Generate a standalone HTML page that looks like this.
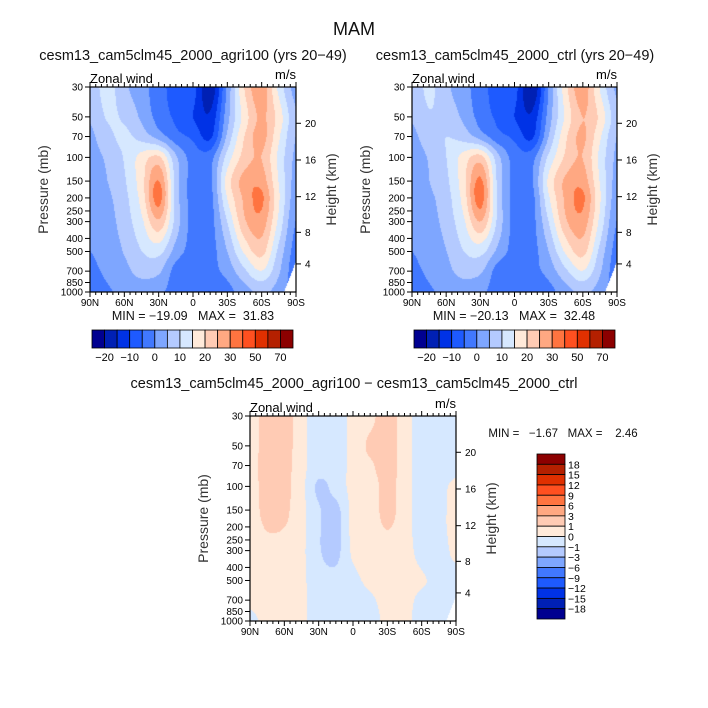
<!DOCTYPE html>
<html><head><meta charset="utf-8">
<style>
html,body{margin:0;padding:0;background:#fff;}
#wrap{position:relative;width:708px;height:708px;overflow:hidden;font-family:"Liberation Sans",sans-serif;}
canvas{position:absolute;}
svg{position:absolute;left:0;top:0;}
</style></head><body>
<div id="wrap">
<canvas id="c1" width="206" height="205" style="left:90px;top:87px"></canvas>
<canvas id="c2" width="205" height="205" style="left:412px;top:87px"></canvas>
<canvas id="c3" width="206" height="205" style="left:250px;top:416px"></canvas>
<svg id="ov" width="708" height="708"></svg>
</div>
<script>
// ---- data ----
const lats = [90,75,60,45,30,15,0,-15,-30,-45,-60,-75,-90];
const pressures = [30,50,70,100,150,200,300,500,700,1000];
const agriU = [
 [7,12,6,2,-3,-7,-8,-19,1,20,28,14,3],
 [5.5,10.5,9,4,-2,-6,-10,-14,3,17,26,18,6],
 [4,8.5,11,8,3,-3,-6,-11,6,20,27,16,5],
 [3,6,10.5,17,21,6,-2,-2,12,22,25,14,4],
 [2,5,9.5,18,30,8,-2,-1,17,27,28,15,3],
 [1.5,4,8.5,17,32,8,-2,-2,15,26,31,16,2],
 [0.5,3,7.5,14,24,8,-2,-2,10,24,28,14,0],
 [0,2,5.5,10,12,3,-2,-2,5,16,22,9,-2],
 [-1,1,3.5,7,6,-2,-4,-2,2,9,15,6,-3],
 [-2.5,-0.5,1,2,1,-2,-3,-5,-2,3,6,3,-3]
];
const ctrlU = [
 [7,11,6,2,-3,-7,-8,-20,0,18,28,15,4],
 [5.5,9.5,8,4,-2,-6,-10,-14,2,16,25,19,7],
 [4,7.5,10,8,3,-3,-6,-11,5,19,26,16,5],
 [3,5.5,10,17,22,7,-2,-2,11,21,25,14,4],
 [2,5,9,18,31,9,-2,-1,16,26,28,15,3],
 [1.5,4,8,17,32.5,9,-2,-2,14,26,31,16,2],
 [0.5,3,7,14,25,9,-2,-2,10,24,28,14,0],
 [0,2,5,10,12,4,-2,-2,5,16,22,9,-2],
 [-1,1,3.5,7,6,-2,-4,-2,2,9,15,6,-3],
 [-2.5,-0.5,1,2,1,-2,-3,-5,-2,3,6,3,-3]
];
const diffU = [
 [0.5,1.5,1.5,0.3,-0.5,-0.5,0.3,0.7,1.5,0.5,-0.5,-0.5,-0.5],
 [0.5,1.5,1.5,0.3,-0.5,-0.5,0.3,1.2,1.5,0.5,-0.5,-0.5,-0.5],
 [0.6,1.6,1.4,0.3,-0.5,-0.5,0.3,0.8,1.5,0.5,-0.5,-0.5,-0.3],
 [0.5,1.5,1.3,0.3,-1.2,-0.6,0.3,0.5,1.3,0.5,-0.5,-0.3,0.2],
 [0.5,1.4,1.2,0.3,-0.9,-1.3,0.3,0.5,1.3,0.5,-0.5,-0.3,0.3],
 [0.5,1.1,1.0,0.3,-0.9,-1.4,0.3,0.5,1.05,0.5,-0.5,-0.3,0.3],
 [0.5,0.6,0.5,0.2,-0.9,-1.3,0.2,0.5,0.6,0.4,-0.3,-0.4,0.2],
 [0.5,0.5,0.5,0.2,-0.6,-0.7,-0.3,0.3,0.5,0.4,0.1,-0.2,-0.3],
 [0.3,0.5,0.5,0.2,-0.5,-0.5,-0.5,-0.2,0.4,0.3,-0.2,-0.3,-0.3],
 [-0.3,0.4,0.4,0.2,-0.5,-0.3,-0.5,-0.5,0.3,0.3,-0.4,-0.4,-0.4]
];
const levelsTop = [-20,-15,-10,-5,0,5,10,15,20,25,30,40,50,60,70];
const levelsDiff = [-18,-15,-12,-9,-6,-3,-1,0,1,3,6,9,12,15,18];
const colorsAsc = ["#000090","#0020b4","#0032e6","#1e5aff","#4178ff","#7ea6ff","#b4caff","#d6e8ff","#ffeada","#ffcbb4","#ffa882","#ff7440","#ff5020","#e03000","#b42000","#8c0000"];
const topBarLabels = ["-20","-10","0","10","20","30","50","70"];
const diffBarLabels = ["18","15","12","9","6","3","1","0","-1","-3","-6","-9","-12","-15","-18"];
const pTicks = [30,50,70,100,150,200,250,300,400,500,700,850,1000];
const latTickLabels = ["90N","60N","30N","0","30S","60S","90S"];
const kmTicks = [4,8,12,16,20];
const kmFrac = [0.863,0.709,0.535,0.356,0.177];

// ---- helpers ----
const NS="http://www.w3.org/2000/svg";
const ov=document.getElementById('ov');
function pv(p){return Math.log(p/30)/Math.log(1000/30);}
function hexRGB(h){return [parseInt(h.substr(1,2),16),parseInt(h.substr(3,2),16),parseInt(h.substr(5,2),16)];}
function cr(p0,p1,p2,p3,t){return 0.5*((2*p1)+(-p0+p2)*t+(2*p0-5*p1+4*p2-p3)*t*t+(-p0+3*p1-3*p2+p3)*t*t*t);}
function sample(g,u,v){
  const fx=u*(lats.length-1);
  let j=0; const pvs=pressures.map(pv);
  while(j<pvs.length-2 && v>pvs[j+1]) j++;
  const fy=j+Math.min(1,Math.max(0,(v-pvs[j])/(pvs[j+1]-pvs[j])));
  const ix=Math.floor(fx), iy=Math.floor(fy), tx=fx-ix, ty=fy-iy;
  const R=(r)=>g[Math.max(0,Math.min(g.length-1,r))];
  const C=(row,c)=>row[Math.max(0,Math.min(row.length-1,c))];
  const rows=[];
  for(let k=-1;k<=2;k++){const row=R(iy+k);rows.push(cr(C(row,ix-1),C(row,ix),C(row,ix+1),C(row,ix+2),tx));}
  return cr(rows[0],rows[1],rows[2],rows[3],ty);
}
function paint(id,g,levels,missing){
  const c=document.getElementById(id),ctx=c.getContext('2d');
  const W=c.width,H=c.height,img=ctx.createImageData(W,H);
  const cols=colorsAsc.map(hexRGB);
  for(let y=0;y<H;y++)for(let x=0;x<W;x++){
    const val=sample(g,x/(W-1),y/(H-1));
    let k=0;while(k<levels.length&&val>=levels[k])k++;
    let col=cols[k];
    if(missing&&missing(x/(W-1),y/(H-1)))col=[255,255,255];
    const o=(y*W+x)*4;img.data[o]=col[0];img.data[o+1]=col[1];img.data[o+2]=col[2];img.data[o+3]=255;
  }
  ctx.putImageData(img,0,0);
}
const missTop=(u,v)=>v>0.86 && u>1-0.055*(v-0.86)/0.14;
const missDiff=(u,v)=>v>0.89 && u>1-0.045*(v-0.89)/0.11;
paint('c1',agriU,levelsTop,missTop);
paint('c2',ctrlU,levelsTop,missTop);
paint('c3',diffU,levelsDiff,missDiff);

function el(tag,attrs,parent){const e=document.createElementNS(NS,tag);for(const k in attrs)e.setAttribute(k,attrs[k]);(parent||ov).appendChild(e);return e;}
function txt(s,x,y,size,anchor,parent,extra){const t=el('text',Object.assign({x:x,y:y,'font-size':size,'text-anchor':anchor||'middle','font-family':'Liberation Sans, sans-serif',fill:'#000'},extra||{}),parent);t.textContent=s;return t;}

function panel(x0,y0,w,h,name){
  const g=el('g',{});
  
  
  const box=el('rect',{x:x0,y:y0,width:w,height:h,fill:'none',stroke:'#000','stroke-width':1.2},g);
  
  
  for(let lat=90;lat>=-90;lat-=5){
    const x=x0+(90-lat)/180*w, major=lat%30===0;
    const L=major?5:3;
    el('line',{x1:x,y1:y0+h,x2:x,y2:y0+h+L,stroke:'#000','stroke-width':1},g);
    el('line',{x1:x,y1:y0,x2:x,y2:y0-L,stroke:'#000','stroke-width':1},g);
  }
  latTickLabels.forEach((s,i)=>{
    const t=txt(s,x0+i*w/6,y0+h+14,10,'middle',g);
    
    
  });
  pTicks.forEach(p=>{
    const y=y0+pv(p)*h;
    el('line',{x1:x0,y1:y,x2:x0-5,y2:y,stroke:'#000','stroke-width':1},g);
    const t=txt(String(p),x0-7,y+3.5,10,'end',g);
    
    
  });
  kmTicks.forEach((k,i)=>{
    const y=y0+kmFrac[i]*h;
    el('line',{x1:x0+w,y1:y,x2:x0+w+5,y2:y,stroke:'#000','stroke-width':1},g);
    const t=txt(String(k),x0+w+9,y+3.5,10,'start',g);
    
    
  });
  const yl=txt('Pressure (mb)',0,0,14,'middle',g,{transform:`translate(${x0-42},${y0+h/2}) rotate(-90)`,fill:'#333'});
  
  
  const hl=txt('Height (km)',0,0,14,'middle',g,{transform:`translate(${x0+w+40},${y0+h/2}) rotate(-90)`,fill:'#333'});
  
  
  const zl=txt('Zonal wind',x0,y0-4,13,'start',g);
  
  
  const ul=txt('m/s',x0+w,y0-8,13,'end',g);
  
  
}
panel(90,87,206,205,'agri100');
panel(412,87,205,205,'ctrl');
panel(250,416,206,205,'difference');

function hbar(x0,y0,w,h,name){
  const g=el('g',{});
  
  
  const bw=w/colorsAsc.length;
  colorsAsc.forEach((c,i)=>{
    const r=el('rect',{x:x0+i*bw,y:y0,width:bw,height:h,fill:c,stroke:'#000','stroke-width':0.8},g);
    
    
  });
  topBarLabels.forEach((s,i)=>{
    const t=txt(s.replace('-','\u2212'),x0+(2*i+1)*bw,y0+h+13,11,'middle',g);
    
    
  });
}
hbar(92,330,201,18,'agri100-colorbar');
hbar(414,330,201,18,'ctrl-colorbar');

(function(){
  const x0=537,y0=454,w=28,h=165;
  const g=el('g',{});
  
  
  const bh=h/colorsAsc.length;
  colorsAsc.slice().reverse().forEach((c,i)=>{
    const r=el('rect',{x:x0,y:y0+i*bh,width:w,height:bh,fill:c,stroke:'#000','stroke-width':0.8},g);
    
    
  });
  diffBarLabels.forEach((s,i)=>{
    const t=txt(s.replace('-','\u2212'),x0+w+3,y0+(i+1)*bh+4,10.5,'start',g);
    
    
  });
})();

const titles=[
 ['MAM',354,35,18,'main-title'],
 ['cesm13_cam5clm45_2000_agri100 (yrs 20\u221249)',193,60,14.5,'left-panel-title'],
 ['cesm13_cam5clm45_2000_ctrl (yrs 20\u221249)',515,60,14.5,'right-panel-title'],
 ['cesm13_cam5clm45_2000_agri100 \u2212 cesm13_cam5clm45_2000_ctrl',354,388,14.5,'difference-title'],
 ['MIN = \u221219.09   MAX =  31.83',193,320,12.5,'left-min-max'],
 ['MIN = \u221220.13   MAX =  32.48',514,320,12.5,'right-min-max'],
 ['MIN =   \u22121.67   MAX =    2.46',563,437,11.5,'difference-min-max']
];
titles.forEach(a=>{
  const t=txt(a[0],a[1],a[2],a[3],'middle',null,{fill:'#111'});
  
  
  t.setAttribute('xml:space','preserve');
  t.style.whiteSpace='pre';
});
</script>
</body></html>
